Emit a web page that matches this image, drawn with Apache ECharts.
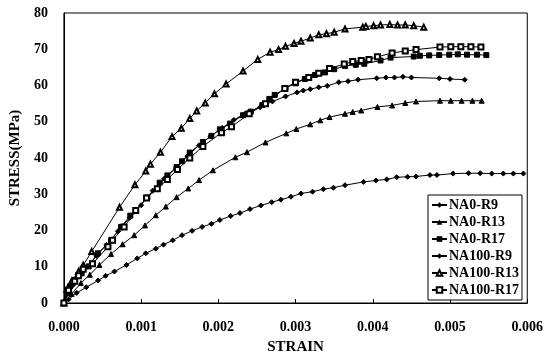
<!DOCTYPE html>
<html><head><meta charset="utf-8">
<script src="https://cdn.jsdelivr.net/npm/echarts@6/dist/echarts.min.js"></script>
<style>html,body{margin:0;padding:0;background:#fff}#c{width:546px;height:360px}</style>
</head><body><div id="c"></div>
<script>
// strain values in units of 0.001
const xTicks = ['0.000','0.001','0.002','0.003','0.004','0.005','0.006'];
const seriesNames = ['NA0-R9','NA0-R13','NA0-R17','NA100-R9','NA100-R13','NA100-R17'];

const na0r9_strain = [0,0.06,0.166,0.29,0.443,0.54,0.655,0.81,0.95,1.06,1.19,1.29,1.41,1.53,1.66,1.79,1.91,2.02,2.16,2.28,2.41,2.55,2.69,2.81,2.94,3.07,3.22,3.36,3.49,3.64,3.88,4.04,4.18,4.31,4.45,4.56,4.74,4.83,5.04,5.24,5.39,5.54,5.69,5.82,5.95];
const na0r9_stress = [0,1.0,2.8,4.35,6.2,7.5,8.7,10.5,12.3,13.7,15.0,16.1,17.3,18.7,19.9,21.0,21.85,22.9,24.0,24.8,25.9,26.9,27.8,28.5,29.3,30.2,30.7,31.4,31.8,32.5,33.4,33.8,34.1,34.7,34.8,34.9,35.3,35.3,35.7,35.8,35.8,35.7,35.7,35.7,35.7];

const na0r13_strain = [0,0.10,0.22,0.336,0.46,0.61,0.76,0.91,1.05,1.19,1.32,1.46,1.61,1.75,1.93,2.22,2.37,2.61,2.88,3.01,3.19,3.32,3.44,3.64,3.74,3.85,4.06,4.25,4.42,4.56,4.87,5.01,5.15,5.29,5.41];
const na0r13_stress = [0,2.5,5.5,7.8,10.5,13.5,16.2,18.7,21.4,24.2,26.6,29.2,31.6,33.9,36.6,40.2,41.6,44.3,46.8,48.0,49.3,50.4,51.3,52.2,52.7,53.1,54.1,54.5,55.2,55.6,55.8,55.8,55.8,55.8,55.8];

const na0r17_strain = [0,0.08,0.14,0.23,0.32,0.44,0.61,0.74,0.86,1.08,1.24,1.34,1.46,1.53,1.63,1.80,1.91,2.02,2.15,2.32,2.42,2.57,2.66,2.73,2.87,3.00,3.12,3.25,3.38,3.50,3.64,3.78,3.89,4.10,4.23,4.53,4.61,4.73,4.86,4.99,5.10,5.22,5.35,5.47];
const na0r17_stress = [0,4.6,6.4,8.2,10.1,13.7,17.3,21.0,24.1,29.1,33.2,35.2,37.5,39.1,41.5,44.4,46.1,47.9,49.5,51.8,52.8,54.6,56.3,57.4,59.3,60.6,61.8,62.9,63.6,64.5,65.4,65.7,66.0,66.9,67.7,68.0,68.2,68.3,68.4,68.5,68.6,68.5,68.5,68.4];

const na100r9_strain = [0,0.05,0.12,0.20,0.30,0.42,0.55,0.70,0.85,1.00,1.15,1.30,1.45,1.60,1.75,1.90,2.05,2.20,2.35,2.54,2.70,2.87,3.02,3.10,3.19,3.30,3.41,3.56,3.68,3.81,4.05,4.17,4.28,4.39,4.50,4.86,5.00,5.19];
const na100r9_stress = [0,2.5,5.0,7.5,10.0,13.0,16.0,19.8,23.5,27.0,31.0,34.3,37.2,40.5,43.5,46.0,48.3,50.5,52.3,54.0,55.6,57.0,58.1,58.6,59.0,59.5,59.9,60.9,61.2,61.6,62.0,62.2,62.2,62.4,62.2,62.0,61.8,61.6];

const na100r13_strain = [0,0.04,0.10,0.19,0.25,0.36,0.72,0.92,1.06,1.12,1.25,1.40,1.52,1.63,1.72,1.83,1.95,2.10,2.32,2.51,2.67,2.78,2.87,2.98,3.07,3.19,3.30,3.40,3.50,3.64,3.87,3.91,4.01,4.10,4.22,4.32,4.42,4.53,4.66];
const na100r13_stress = [0,3.7,6.0,8.7,10.4,14.2,26.4,32.6,36.4,38.3,41.6,45.9,48.2,50.9,53.0,55.2,57.7,60.4,64.0,67.2,69.2,69.9,70.8,71.6,72.2,73.1,74.0,74.3,74.7,75.6,76.1,76.3,76.5,76.7,76.8,76.7,76.7,76.5,76.1];

const na100r17_strain = [0,0.06,0.14,0.19,0.25,0.37,0.57,0.63,0.78,0.93,1.07,1.21,1.34,1.47,1.63,1.80,2.04,2.17,2.40,2.61,2.86,3.00,3.17,3.30,3.44,3.63,3.74,3.85,3.95,4.06,4.25,4.42,4.56,4.87,5.01,5.14,5.27,5.40];
const na100r17_stress = [0,3.5,6.0,7.5,9.3,10.8,15.5,17.3,21.0,25.5,29.0,31.5,34.1,36.8,40.0,43.2,47.0,48.6,52.2,55.0,59.2,60.9,62.2,63.4,64.7,65.9,66.6,66.9,67.2,67.9,69.0,69.5,69.9,70.6,70.7,70.7,70.7,70.6];

function pairs(xs, ys){ return xs.map((x,i)=>[x/1000, ys[i]]); }

const font = '"Liberation Serif", "Times New Roman", serif';
const defs = [
  {name: seriesNames[0], data: pairs(na0r9_strain, na0r9_stress), symbol: 'diamond', size: 5},
  {name: seriesNames[1], data: pairs(na0r13_strain, na0r13_stress), symbol: 'triangle', size: 5},
  {name: seriesNames[2], data: pairs(na0r17_strain, na0r17_stress), symbol: 'rect', size: 5},
  {name: seriesNames[3], data: pairs(na100r9_strain, na100r9_stress), symbol: 'diamond', size: 5},
  {name: seriesNames[4], data: pairs(na100r13_strain, na100r13_stress), symbol: 'emptyTriangle', size: 5},
  {name: seriesNames[5], data: pairs(na100r17_strain, na100r17_stress), symbol: 'emptyRect', size: 5}
];

const chart = echarts.init(document.getElementById('c'), null, {renderer: 'canvas'});
chart.setOption({
  animation: false,
  backgroundColor: '#fff',
  grid: {left: 62, right: 14, top: 13, bottom: 53, show: true, borderColor: '#000', borderWidth: 1},
  legend: {
    orient: 'vertical', left: 428, top: 195,
    backgroundColor: '#fff', borderColor: '#000', borderWidth: 1,
    padding: [3, 3, 3, 3], itemGap: 3, itemWidth: 15, itemHeight: 7,
    textStyle: {fontFamily: font, fontWeight: 'bold', fontSize: 14, color: '#000', padding: [0,0,0,-3]},
    data: seriesNames
  },
  xAxis: {
    type: 'value', min: 0, max: 0.006, interval: 0.001,
    name: 'STRAIN', nameLocation: 'middle', nameGap: 37,
    nameTextStyle: {fontFamily: font, fontWeight: 'bold', fontSize: 15, color: '#000'},
    axisLine: {lineStyle: {color: '#000', width: 1}},
    axisTick: {inside: true, length: 4, lineStyle: {color: '#000'}},
    splitLine: {show: false},
    axisLabel: {margin: 17, fontFamily: font, fontWeight: 'bold', fontSize: 14, color: '#000',
      formatter: (v) => xTicks[Math.round(v*1000)]}
  },
  yAxis: {
    type: 'value', min: 0, max: 80, interval: 10,
    name: 'STRESS(MPa)', nameLocation: 'middle', nameGap: 37, nameRotate: 90,
    nameTextStyle: {fontFamily: font, fontWeight: 'bold', fontSize: 15, color: '#000'},
    axisLine: {show: true, lineStyle: {color: '#000', width: 1}},
    axisTick: {show: false},
    splitLine: {show: false},
    axisLabel: {margin: 16, fontFamily: font, fontWeight: 'bold', fontSize: 14, color: '#000'}
  },
  series: defs.map(d => ({
    name: d.name, type: 'line', data: d.data,
    symbol: d.symbol, symbolSize: d.size, showSymbol: true,
    lineStyle: {color: '#000', width: 1},
    itemStyle: {color: '#000', borderColor: '#000'},
    emphasis: {disabled: true}
  }))
});
</script></body></html>
